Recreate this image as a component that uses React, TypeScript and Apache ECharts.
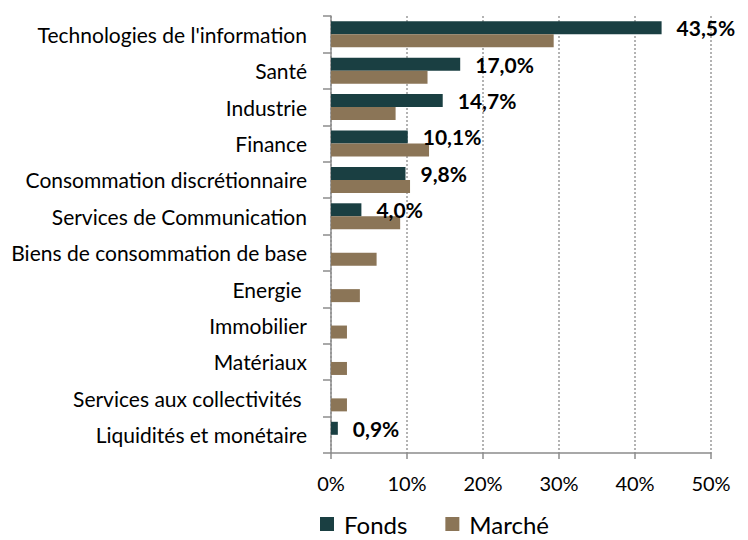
import React, { useEffect, useRef } from "react";
import * as echarts from "echarts";

const categories = [
  "Technologies de l'information",
  "Santé",
  "Industrie",
  "Finance",
  "Consommation discrétionnaire",
  "Services de Communication",
  "Biens de consommation de base",
  "Energie ",
  "Immobilier",
  "Matériaux",
  "Services aux collectivités ",
  "Liquidités et monétaire",
];
const fonds: (number | string)[] = [43.5, 17.0, 14.7, 10.1, 9.8, 4.0, "-", "-", "-", "-", "-", 0.9];
const marche: (number | string)[] = [29.3, 12.7, 8.5, 12.9, 10.4, 9.1, 6.0, 3.8, 2.1, 2.1, 2.1, "-"];
const xTicks = [0, 10, 20, 30, 40, 50];

const FONT = "Lato";

export default function App() {
  const ref = useRef<HTMLDivElement>(null);
  useEffect(() => {
    if (!ref.current) return;
    const chart = echarts.init(ref.current, null, { renderer: "svg" });
    chart.setOption({
      animation: false,
      textStyle: { fontFamily: FONT },
      legend: {
        left: 320,
        top: 512,
        padding: 0,
        itemWidth: 14,
        itemHeight: 14,
        itemGap: 38,
        icon: "rect",
        textStyle: {
          fontSize: 24,
          color: "#000",
          fontFamily: FONT,
          padding: [0, 0, 0, 5],
        },
        data: ["Fonds", "Marché"],
      },
      grid: { left: 331, right: 37, top: 16, bottom: 87 },
      xAxis: {
        type: "value",
        min: xTicks[0],
        max: xTicks[xTicks.length - 1],
        interval: 10,
        axisLine: { show: true, lineStyle: { color: "#8c8c8c", width: 1.5 } },
        axisTick: { show: true, length: 6, lineStyle: { color: "#8c8c8c", width: 1.5 } },
        splitLine: { show: true, lineStyle: { color: "#9a9a9a", type: [2, 2], width: 1.5 } },
        axisLabel: {
          color: "#000",
          fontSize: 20,
          margin: 20,
          fontFamily: FONT,
          formatter: (v: number) => v + "%",
        },
      },
      yAxis: {
        type: "category",
        inverse: true,
        data: categories,
        axisLine: { show: true, lineStyle: { color: "#8c8c8c", width: 1.5 } },
        axisTick: { show: true, length: 8, lineStyle: { color: "#8c8c8c", width: 1.5 } },
        axisLabel: { color: "#000", fontSize: 21, margin: 24, fontFamily: FONT },
      },
      series: [
        {
          name: "Fonds",
          type: "bar",
          data: fonds,
          barWidth: 13,
          barGap: "0%",
          itemStyle: { color: "#1a3f42" },
          label: {
            show: true,
            position: "right",
            distance: 15,
            color: "#000",
            fontWeight: "bold",
            fontSize: 21,
            fontFamily: FONT,
            formatter: (p: any) => Number(p.value).toFixed(1).replace(".", ",") + "%",
          },
        },
        {
          name: "Marché",
          type: "bar",
          data: marche,
          barWidth: 13,
          barGap: "0%",
          itemStyle: { color: "#8b7557" },
        },
      ],
    });
    return () => chart.dispose();
  }, []);
  return <div ref={ref} style={{ width: 748, height: 540, position: "absolute", left: 0, top: 0 }} />;
}
